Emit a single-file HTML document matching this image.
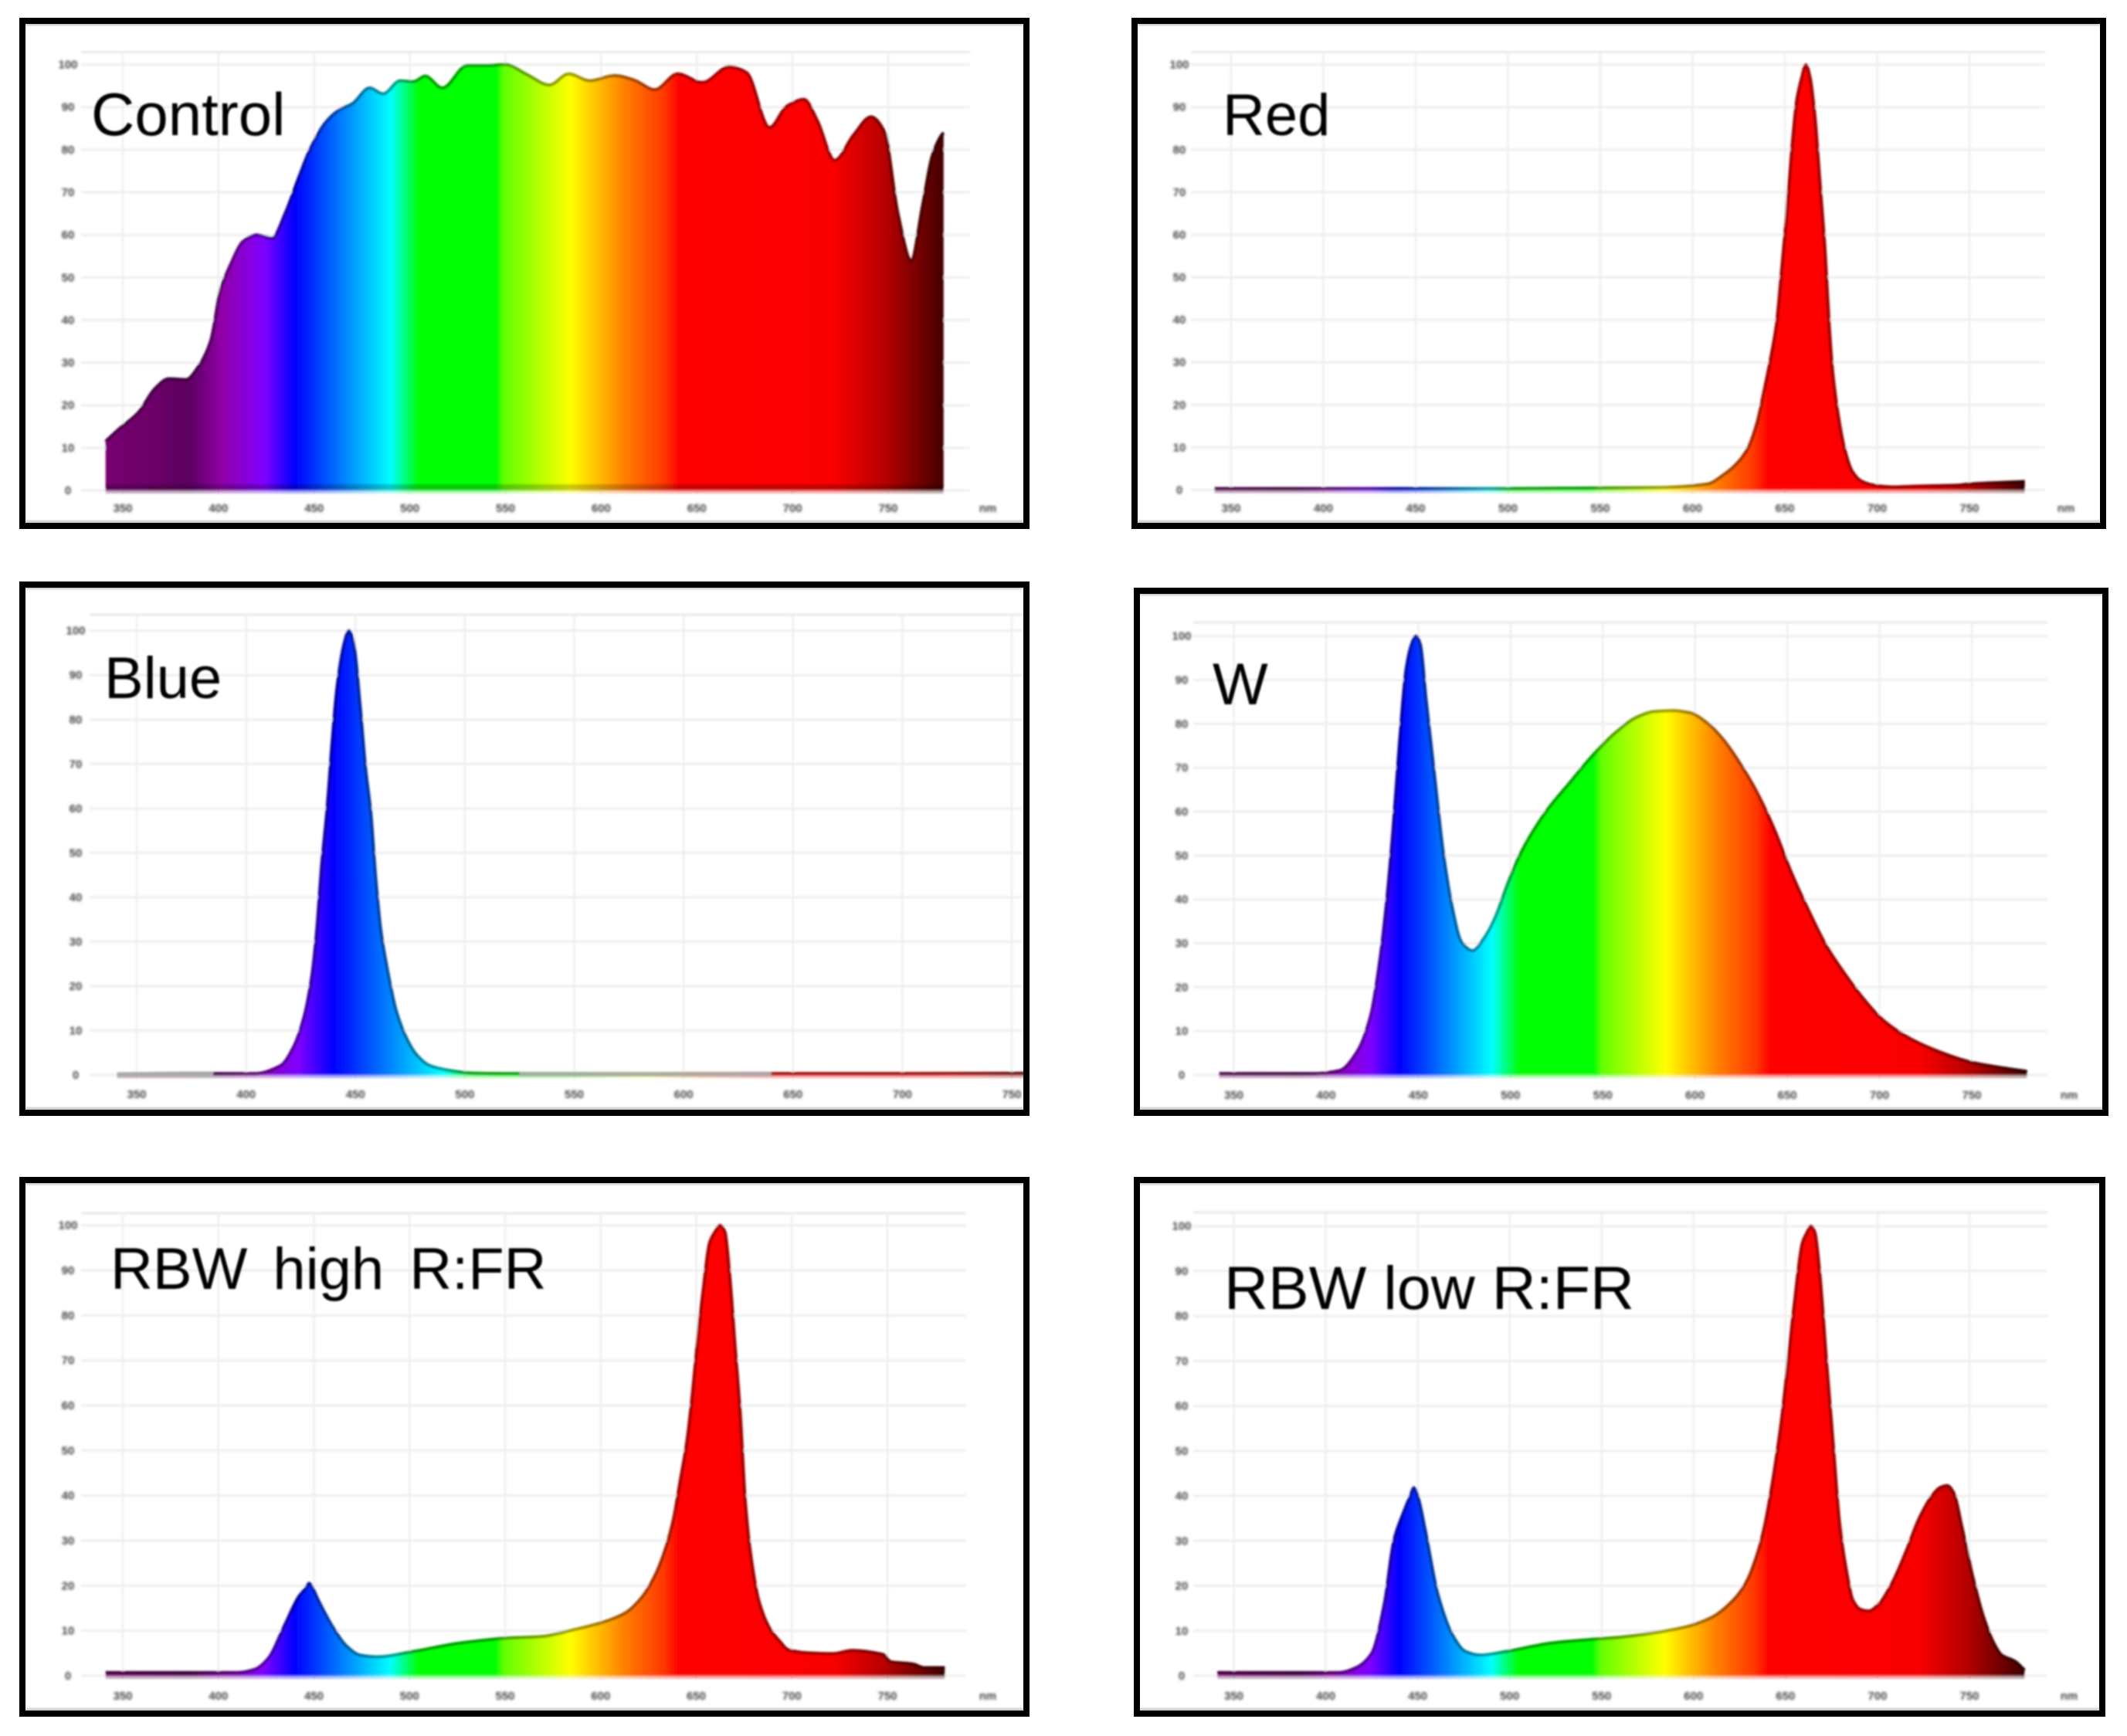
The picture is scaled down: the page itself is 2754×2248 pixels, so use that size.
<!DOCTYPE html>
<html lang="en">
<head>
<meta charset="utf-8">
<title>Light treatment spectra</title>
<style>
  html, body { margin: 0; padding: 0; background: #fff; }
  svg { display: block; }
  .tick { font-family: "Liberation Sans", sans-serif; font-size: 15px; font-weight: bold; fill: #444; }
  .title { font-family: "Liberation Sans", sans-serif; font-size: 76px; fill: #000; }
</style>
</head>
<body>
<svg id="chart" xmlns="http://www.w3.org/2000/svg" width="2754" height="2248" viewBox="0 0 2754 2248">
  <defs>
    <filter id="soft" filterUnits="userSpaceOnUse" x="0" y="0" width="2754" height="2248">
      <feGaussianBlur stdDeviation="1.2"/>
    </filter>
    <filter id="softer" filterUnits="userSpaceOnUse" x="0" y="0" width="2754" height="2248">
      <feGaussianBlur stdDeviation="1"/>
    </filter>
    <filter id="tickBlur" filterUnits="userSpaceOnUse" x="0" y="0" width="2754" height="2248">
      <feGaussianBlur stdDeviation="1.5"/>
    </filter>
  </defs>
</svg>
<script>
const xTickLabels = [350, 400, 450, 500, 550, 600, 650, 700, 750];
const yTickLabels = [0, 10, 20, 30, 40, 50, 60, 70, 80, 90, 100];

const controlNm = [341,348,358,367,374,383,390,396,401,406,413,420,428,435,442,448,456,463,470,479,486,495,502,508,517,530,541,550,561,573,583,594,607,617,628,640,653,667,676,688,697,706,713,722,732,741,748,755,762,768,773,778,779];
const controlValues = [11.5,14.4,18.2,24,26.2,26,29.4,35.2,46.9,52.7,58.5,60,59.2,65.2,73.5,80.2,86.4,89.3,90.8,94.5,93.1,96.2,96,97.3,94.5,99.8,99.8,100,97.7,95.2,97.8,96.2,97.4,96.4,94.1,97.8,95.8,99.5,98.1,85.2,90.2,91.8,86.8,77.5,83.5,87.7,84.3,65.2,54,66.9,78.5,83.5,84];

const redNm = [341,400,500,583,608,617.5,624.4,630,635,638.4,641.9,645.4,648.2,651,653.7,656.5,659.2,661.4,663.6,666.3,669,671.9,674,676,678.8,682.3,686.5,691.4,698.4,708,722,743,750,780];
const redValues = [0.3,0.3,0.3,0.6,1.4,3.8,6.4,9.8,15.9,22.6,30,38.7,51.4,64.8,79.6,91.7,97,100,97,87.7,72.3,55.5,38.7,27.3,17.9,9.8,4.4,2.1,1.1,0.7,0.9,1.1,1.4,2];

const blueNm = [341,370,404,415.8,421.6,426.4,429.9,432.2,434.6,437,439.3,441.6,444.8,447,449.2,452.2,454.6,457,459.3,461.6,464.6,468.7,473.4,478,484,492.2,504,521.6,600,700,780];
const blueValues = [0.2,0.3,0.3,2.1,6.2,12.9,21.7,31.9,47.4,59.6,74.5,87.3,97,100,97,82.6,69,59,44,32.5,23.7,14.3,8.2,4.5,2.1,1.1,0.4,0.3,0.3,0.3,0.4];
const blueGreyStart = [341, 525];
const blueGreyEnd = [385, 640];

const whiteNm = [342,392.9,407.3,417,424.2,429,432.6,436.2,439.8,443.4,446.3,448.7,451.1,454.2,459,463.8,468.6,473.4,479.4,485.4,491.5,498.7,504.7,510.7,520.3,532.3,544.3,556.4,568.4,578,587.6,597.2,606.8,615.3,623.7,633.3,643,652.5,662.1,671.7,681.4,691,703,717.4,734.2,748.7,761,780];
const whiteValues = [0.3,0.3,1,5.4,13.5,25.6,38.4,55.2,75.4,92.3,98,100,98,85.5,67.3,49.8,37.7,30.3,28.3,31,35.7,43.8,49.8,54.5,60.6,66.7,72.7,77.8,81.5,82.8,83,82.5,80.1,76.4,71.4,64.6,55.9,45.8,37,29,22.9,17.5,12.1,8.1,5,3,2,0.8];

const highNm = [341,410,419,426,435,442,445.5,447.5,449.5,452,460,467,474,483,502,527,552,568.6,586.7,602,613.1,621.5,628.4,634,638.2,641.6,645.1,647.9,650.7,653.5,657,659.8,662.5,665,667.4,670.2,672.9,675.7,678.5,682.7,688.3,693.8,698,707.7,721.6,731.4,748,751.6,763.4,769,780];
const highValues = [0.7,0.7,1.4,3.8,11.5,17.5,19.3,20.5,19.3,17,10.7,6.6,4.6,4.2,5.4,7.3,8.4,8.7,10.3,12,14,17.4,22.2,28.3,35,43.2,52,62.2,74.4,85.2,96.1,98.5,100,98.5,89.3,73.7,58.8,38.4,26.9,16.7,10.6,7.6,5.8,5.1,4.9,5.6,4.7,3.1,2.6,1.8,1.8];

const lowNm = [341,407,417,425,432,437,442,446,448,450,454,461,469,476,484,498,523,548,560.9,594.1,610,621.6,628.8,634.6,638.9,643.3,647.6,651.2,654.8,659.2,661.6,663.8,666,668.6,672.2,675.8,679.4,683,686.6,691,695.3,700.4,708.3,715.5,722.8,730,734.3,737.9,741.5,745.9,751.7,757.4,763.2,767.5,774.8,780];
const lowValues = [0.7,0.7,1.9,5,16.3,30,36,40,41.8,40,32.5,18,9,5.4,4.6,5.4,7.3,8.2,8.6,10.7,13,16.8,20.9,27,33.8,44,56.2,69.1,82.7,96.3,98.5,100,98.5,89.5,70.4,52.1,33.8,23.6,16.8,14.7,14.4,15.8,20.9,27.6,35.1,40.2,41.9,42.3,40.6,33.1,22.2,13.4,7.3,4.6,3.2,1.2];

const colorNm = [340,365,385,402,424,440,465,490,505,545,549,584,612,633,641,722,738,749,763,780];
const colorHex = ["#780070","#6c0068","#5c0060","#9000a8","#8000ff","#0000ff","#0080ff","#00ffff","#00ff00","#00ff00","#60ff00","#ffff00","#ff8000","#ff3800","#ff0000","#f80000","#d00000","#b40000","#800000","#400000"];

const panels = [
  { key: "control", title: "Control", titleSize: 78, nm: controlNm, values: controlValues, baseShade: true,
    box: [25, 23, 1333, 685], x350: 159, x750: 1150, y0: 635, y100: 83.6,
    grid: [105, 67.5, 1256], yLabelX: 88, tickY: 658, unitX: 1279, titleX: 118, titleY: 175 },
  { key: "red", title: "Red", titleSize: 76, nm: redNm, values: redValues,
    box: [1465, 23, 2727, 685], x350: 1594, x750: 2550, y0: 634.5, y100: 83.6,
    grid: [1542, 67.5, 2648], yLabelX: 1527, tickY: 658, unitX: 2675, titleX: 1583, titleY: 175 },
  { key: "blue", title: "Blue", titleSize: 76, nm: blueNm, values: blueValues, greyStart: blueGreyStart, greyEnd: blueGreyEnd,
    box: [25, 753, 1333, 1445], x350: 177, x750: 1310, y0: 1392, y100: 816.7,
    grid: [116, 796, 1333], yLabelX: 98, tickY: 1417, unitX: 1400, titleX: 135, titleY: 904 },
  { key: "white", title: "W", titleSize: 76, nm: whiteNm, values: whiteValues,
    box: [1468, 761, 2730, 1445], x350: 1597.5, x750: 2553, y0: 1392, y100: 823.6,
    grid: [1545, 806, 2651], yLabelX: 1530, tickY: 1418, unitX: 2679, titleX: 1570, titleY: 912 },
  { key: "rbw-high", title: "RBW high R:FR", titleSize: 76, nm: highNm, values: highValues, wordGap: 12,
    box: [25, 1524, 1333, 2223], x350: 159, x750: 1149, y0: 2170, y100: 1586.7,
    grid: [105, 1571, 1251], yLabelX: 88, tickY: 2196, unitX: 1279, titleX: 143, titleY: 1669 },
  { key: "rbw-low", title: "RBW low R:FR", titleSize: 79, nm: lowNm, values: lowValues,
    box: [1468, 1524, 2726, 2223], x350: 1597.5, x750: 2550, y0: 2170, y100: 1587.7,
    grid: [1545, 1570, 2651], yLabelX: 1530, tickY: 2196, unitX: 2679, titleX: 1585, titleY: 1695 }
];

const SVG_NS = "http://www.w3.org/2000/svg";
const root = document.getElementById("chart");
const defs = root.querySelector("defs");

function make(tag, attrs, parent) {
  const el = document.createElementNS(SVG_NS, tag);
  Object.keys(attrs).forEach(function (k) { el.setAttribute(k, attrs[k]); });
  parent.appendChild(el);
  return el;
}

function xAxis(p) {
  return function (nm) { return p.x350 + (nm - 350) * (p.x750 - p.x350) / 400; };
}
function yAxis(p) {
  return function (v) { return p.y0 + v * (p.y100 - p.y0) / 100; };
}

/* monotone cubic curve through the data points */
function curve(xs, ys) {
  const n = xs.length;
  const d = [], m = [];
  for (let i = 0; i < n - 1; i++) d.push((ys[i + 1] - ys[i]) / (xs[i + 1] - xs[i]));
  m.push(d[0]);
  for (let i = 1; i < n - 1; i++) m.push(d[i - 1] * d[i] <= 0 ? 0 : 2 * d[i - 1] * d[i] / (d[i - 1] + d[i]));
  m.push(d[n - 2]);
  let s = "M" + xs[0].toFixed(1) + " " + ys[0].toFixed(1);
  for (let i = 0; i < n - 1; i++) {
    const h = (xs[i + 1] - xs[i]) / 3;
    s += "C" + (xs[i] + h).toFixed(1) + " " + (ys[i] + m[i] * h).toFixed(1) + " " +
         (xs[i + 1] - h).toFixed(1) + " " + (ys[i + 1] - m[i + 1] * h).toFixed(1) + " " +
         xs[i + 1].toFixed(1) + " " + ys[i + 1].toFixed(1);
  }
  return s;
}

panels.forEach(function (p) {
  const x = xAxis(p);
  const y = yAxis(p);
  const b = p.box;

  const clip = make("clipPath", { id: "clip-" + p.key }, defs);
  make("rect", { x: b[0], y: b[1], width: b[2] - b[0], height: b[3] - b[1] }, clip);

  const grad = make("linearGradient", {
    id: "spectrum-" + p.key, gradientUnits: "userSpaceOnUse",
    x1: x(colorNm[0]), y1: 0, x2: x(colorNm[colorNm.length - 1]), y2: 0
  }, defs);
  colorNm.forEach(function (nm, i) {
    make("stop", {
      offset: (nm - colorNm[0]) / (colorNm[colorNm.length - 1] - colorNm[0]),
      "stop-color": colorHex[i]
    }, grad);
  });

  const panel = make("g", { "clip-path": "url(#clip-" + p.key + ")" }, root);
  
  

  const inner = make("g", { filter: "url(#soft)" }, panel);
  
  

  const ticks = make("g", { filter: "url(#tickBlur)" }, panel);
  
  

  const gridTop = make("line", { x1: p.grid[0], x2: p.grid[2], y1: p.grid[1], y2: p.grid[1], stroke: "#e9e9e9", "stroke-width": 3 }, inner);
  
  

  yTickLabels.forEach(function (v) {
    const line = make("line", { x1: p.grid[0], x2: p.grid[2], y1: y(v), y2: y(v), stroke: "#eeeeee", "stroke-width": 3 }, inner);
    
    
    const label = make("text", { x: p.yLabelX, y: y(v) + 5, "text-anchor": "middle", class: "tick" }, ticks);
    label.textContent = v;
    
    
  });

  xTickLabels.forEach(function (nm) {
    const line = make("line", { x1: x(nm), x2: x(nm), y1: p.grid[1], y2: p.y0 + 6, stroke: "#eeeeee", "stroke-width": 2.5 }, inner);
    
    
    const label = make("text", { x: x(nm), y: p.tickY + 5, "text-anchor": "middle", class: "tick" }, ticks);
    label.textContent = nm;
    
    
  });

  const unit = make("text", { x: p.unitX, y: p.tickY + 5, "text-anchor": "middle", class: "tick" }, ticks);
  unit.textContent = "nm";
  
  

  const xs = p.nm.map(x);
  const ys = p.values.map(y);
  const first = xs[0];
  const last = xs[xs.length - 1];
  const top = curve(xs, ys);
  const outline = top + "L" + last.toFixed(1) + " " + y(0).toFixed(1) +
                  "L" + first.toFixed(1) + " " + y(0).toFixed(1) + "Z";

  const fringe = make("line", {
    x1: first, x2: last + 0.01, y1: y(0) + 2, y2: y(0) + 2,
    stroke: "url(#spectrum-" + p.key + ")", "stroke-width": 4, "stroke-opacity": 0.4
  }, inner);
  
  

  const area = make("path", { d: outline, fill: "url(#spectrum-" + p.key + ")" }, inner);
  
  

  if (p.baseShade) {
    const strip = make("line", {
      x1: first, x2: last, y1: y(0) - 4, y2: y(0) - 4,
      stroke: "#000", "stroke-opacity": 0.2, "stroke-width": 8
    }, inner);
    
    
  }

  const tint = make("path", { d: top, fill: "none", stroke: "url(#spectrum-" + p.key + ")", "stroke-width": 4, "stroke-linejoin": "round" }, inner);
  
  

  const edge = make("path", { d: top, fill: "none", stroke: "#000", "stroke-opacity": 0.38, "stroke-width": 4, "stroke-linejoin": "round" }, inner);
  
  

  if (p.greyStart) {
    p.greyStart.forEach(function (nm, i) {
      const band = make("line", {
        x1: x(nm), x2: x(p.greyEnd[i]), y1: y(0.1), y2: y(0.1),
        stroke: "#aaaaaa", "stroke-width": 5
      }, inner);
      
      
    });
  }

  const title = make("text", { x: p.titleX, y: p.titleY, class: "title", filter: "url(#softer)", "font-size": p.titleSize, style: "font-size:" + p.titleSize + "px" }, panel);
  title.textContent = p.title;
  if (p.wordGap) title.setAttribute("word-spacing", p.wordGap);
  
  

  const shade = make("g", { filter: "url(#softer)" }, panel);
  
  
  make("rect", { x: b[0] + 8, y: b[1] + 7, width: b[2] - b[0] - 16, height: 3, fill: "#c4c4c4" }, shade);
  make("rect", { x: b[0] + 8, y: b[3] - 11, width: b[2] - b[0] - 16, height: 3, fill: "#c4c4c4" }, shade);

  const frame = make("rect", {
    x: b[0] + 4, y: b[1] + 4, width: b[2] - b[0] - 8, height: b[3] - b[1] - 8,
    fill: "none", stroke: "#000", "stroke-width": 8
  }, root);
  
  
});
</script>
</body>
</html>
